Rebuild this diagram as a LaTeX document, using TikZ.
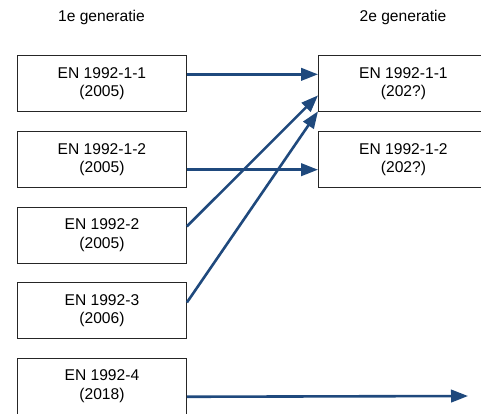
\documentclass[tikz,border=0pt]{standalone}
\usepackage{fontspec}
\setmainfont{Liberation Sans}
\usetikzlibrary{arrows.meta,calc}
\definecolor{arrblue}{HTML}{1F497D}
\begin{document}
\begin{tikzpicture}[x=1pt,y=-1pt,
  box/.style={draw=black!85,line width=0.9pt,minimum width=169pt,minimum height=56pt,
    inner sep=0pt,align=center,font=\fontsize{15.6}{18.5}\selectfont,anchor=north west},
  head/.style={font=\fontsize{15.6}{18.5}\selectfont,inner sep=0pt},
  conn/.style={draw=arrblue,line width=2.6pt,-{Triangle[length=17pt,width=12.5pt]}},
  plain/.style={draw=arrblue,line width=2.6pt}]
\useasboundingbox (0,0) rectangle (481,414);
\clip (0,0) rectangle (481,414);
\node[head] (g1) at (101.5,17) {1e generatie};
\node[head] (g2) at (403,17) {2e generatie};
\node[box] (l1) at (17,55) {EN 1992-1-1\\(2005)};
\node[box] (l2) at (17,131) {EN 1992-1-2\\(2005)};
\node[box] (l3) at (17,206.5) {EN 1992-2\\(2005)};
\node[box] (l4) at (17,282) {EN 1992-3\\(2006)};
\node[box] (l5) at (17,357.5) {EN 1992-4\\(2018)};
\node[box,minimum width=170pt] (r1) at (318,55) {EN 1992-1-1\\(202?)};
\node[box,minimum width=170pt] (r2) at (318,131) {EN 1992-1-2\\(202?)};
\coordinate (e5) at (468,396);
\draw[conn] ($(l1.north east)!0.34!(l1.south east)$) -- ($(r1.north west)!0.34!(r1.south west)$);
\draw[conn] ($(l2.north east)!0.68!(l2.south east)$) -- ($(r2.north west)!0.68!(r2.south west)$);
\draw[conn] ($(l3.north east)!0.35!(l3.south east)$) -- ($(r1.north west)!0.71!(r1.south west)$);
\draw[conn] ($(l4.north east)!0.36!(l4.south east)$) -- ($(r1.north west)!0.99!(r1.south west)$);
\draw[conn] ($(l5.north east)!0.69!(l5.south east)$) -- (e5);
\end{tikzpicture}
\end{document}
